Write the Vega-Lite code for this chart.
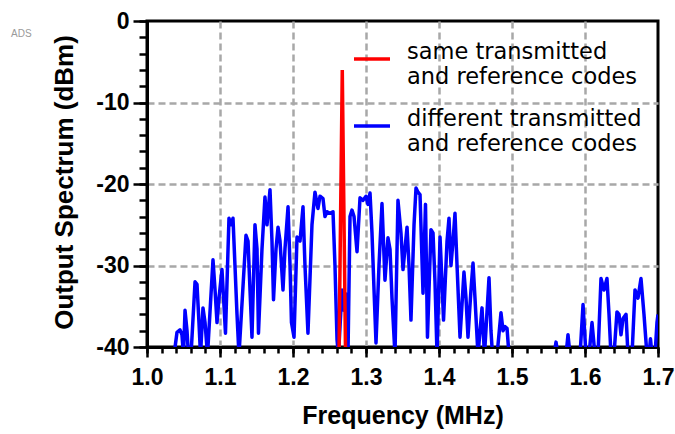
{
  "$schema": "https://vega.github.io/schema/vega-lite/v6.json",
  "width": 511,
  "height": 326,
  "autosize": "none",
  "padding": {"left": 147, "top": 21, "right": 17, "bottom": 87},
  "background": "white",
  "config": {
    "view": {"stroke": "black", "strokeWidth": 3},
    "font": "Liberation Sans"
  },
  "title": {
    "text": "ADS",
    "anchor": "start",
    "frame": "group",
    "fontSize": 10,
    "fontWeight": "normal",
    "color": "#9a9a9a",
    "baseline": "alphabetic",
    "offset": 0,
    "dx": -136,
    "dy": 37
  },
  "datasets": {
    "different": [
      {"f": 1.0288, "dbm": -41, "series": "different transmitted and reference codes"},
      {"f": 1.0370, "dbm": -41, "series": "different transmitted and reference codes"},
      {"f": 1.0411, "dbm": -38.2, "series": "different transmitted and reference codes"},
      {"f": 1.0452, "dbm": -37.9, "series": "different transmitted and reference codes"},
      {"f": 1.0479, "dbm": -38.5, "series": "different transmitted and reference codes"},
      {"f": 1.0500, "dbm": -41, "series": "different transmitted and reference codes"},
      {"f": 1.0521, "dbm": -35.5, "series": "different transmitted and reference codes"},
      {"f": 1.0548, "dbm": -38, "series": "different transmitted and reference codes"},
      {"f": 1.0568, "dbm": -41, "series": "different transmitted and reference codes"},
      {"f": 1.0603, "dbm": -41, "series": "different transmitted and reference codes"},
      {"f": 1.0658, "dbm": -32, "series": "different transmitted and reference codes"},
      {"f": 1.0685, "dbm": -32.3, "series": "different transmitted and reference codes"},
      {"f": 1.0712, "dbm": -37, "series": "different transmitted and reference codes"},
      {"f": 1.0733, "dbm": -41, "series": "different transmitted and reference codes"},
      {"f": 1.0767, "dbm": -35.2, "series": "different transmitted and reference codes"},
      {"f": 1.0795, "dbm": -37, "series": "different transmitted and reference codes"},
      {"f": 1.0829, "dbm": -41, "series": "different transmitted and reference codes"},
      {"f": 1.0904, "dbm": -29.3, "series": "different transmitted and reference codes"},
      {"f": 1.0932, "dbm": -33, "series": "different transmitted and reference codes"},
      {"f": 1.0959, "dbm": -37, "series": "different transmitted and reference codes"},
      {"f": 1.0986, "dbm": -34, "series": "different transmitted and reference codes"},
      {"f": 1.1027, "dbm": -30.5, "series": "different transmitted and reference codes"},
      {"f": 1.1055, "dbm": -35, "series": "different transmitted and reference codes"},
      {"f": 1.1075, "dbm": -38.3, "series": "different transmitted and reference codes"},
      {"f": 1.1123, "dbm": -24.2, "series": "different transmitted and reference codes"},
      {"f": 1.1151, "dbm": -25, "series": "different transmitted and reference codes"},
      {"f": 1.1178, "dbm": -24.2, "series": "different transmitted and reference codes"},
      {"f": 1.1205, "dbm": -30, "series": "different transmitted and reference codes"},
      {"f": 1.1233, "dbm": -36, "series": "different transmitted and reference codes"},
      {"f": 1.1260, "dbm": -41, "series": "different transmitted and reference codes"},
      {"f": 1.1356, "dbm": -26.3, "series": "different transmitted and reference codes"},
      {"f": 1.1384, "dbm": -27, "series": "different transmitted and reference codes"},
      {"f": 1.1411, "dbm": -33, "series": "different transmitted and reference codes"},
      {"f": 1.1438, "dbm": -38.8, "series": "different transmitted and reference codes"},
      {"f": 1.1479, "dbm": -25, "series": "different transmitted and reference codes"},
      {"f": 1.1507, "dbm": -28, "series": "different transmitted and reference codes"},
      {"f": 1.1527, "dbm": -38.3, "series": "different transmitted and reference codes"},
      {"f": 1.1575, "dbm": -28, "series": "different transmitted and reference codes"},
      {"f": 1.1616, "dbm": -21.6, "series": "different transmitted and reference codes"},
      {"f": 1.1644, "dbm": -25, "series": "different transmitted and reference codes"},
      {"f": 1.1685, "dbm": -20.7, "series": "different transmitted and reference codes"},
      {"f": 1.1712, "dbm": -27, "series": "different transmitted and reference codes"},
      {"f": 1.1733, "dbm": -34.2, "series": "different transmitted and reference codes"},
      {"f": 1.1767, "dbm": -28, "series": "different transmitted and reference codes"},
      {"f": 1.1795, "dbm": -25.3, "series": "different transmitted and reference codes"},
      {"f": 1.1822, "dbm": -27, "series": "different transmitted and reference codes"},
      {"f": 1.1863, "dbm": -33, "series": "different transmitted and reference codes"},
      {"f": 1.1890, "dbm": -28, "series": "different transmitted and reference codes"},
      {"f": 1.1932, "dbm": -22.8, "series": "different transmitted and reference codes"},
      {"f": 1.1959, "dbm": -30, "series": "different transmitted and reference codes"},
      {"f": 1.1979, "dbm": -37, "series": "different transmitted and reference codes"},
      {"f": 1.2014, "dbm": -38.8, "series": "different transmitted and reference codes"},
      {"f": 1.2055, "dbm": -26.5, "series": "different transmitted and reference codes"},
      {"f": 1.2096, "dbm": -27, "series": "different transmitted and reference codes"},
      {"f": 1.2137, "dbm": -22.8, "series": "different transmitted and reference codes"},
      {"f": 1.2164, "dbm": -30, "series": "different transmitted and reference codes"},
      {"f": 1.2205, "dbm": -38.3, "series": "different transmitted and reference codes"},
      {"f": 1.2260, "dbm": -25, "series": "different transmitted and reference codes"},
      {"f": 1.2301, "dbm": -21, "series": "different transmitted and reference codes"},
      {"f": 1.2342, "dbm": -23, "series": "different transmitted and reference codes"},
      {"f": 1.2370, "dbm": -21.5, "series": "different transmitted and reference codes"},
      {"f": 1.2411, "dbm": -21.8, "series": "different transmitted and reference codes"},
      {"f": 1.2438, "dbm": -24, "series": "different transmitted and reference codes"},
      {"f": 1.2466, "dbm": -23.4, "series": "different transmitted and reference codes"},
      {"f": 1.2507, "dbm": -23.6, "series": "different transmitted and reference codes"},
      {"f": 1.2548, "dbm": -23.4, "series": "different transmitted and reference codes"},
      {"f": 1.2575, "dbm": -30, "series": "different transmitted and reference codes"},
      {"f": 1.2603, "dbm": -39.1, "series": "different transmitted and reference codes"},
      {"f": 1.2623, "dbm": -41, "series": "different transmitted and reference codes"},
      {"f": 1.2671, "dbm": -33, "series": "different transmitted and reference codes"},
      {"f": 1.2699, "dbm": -35.5, "series": "different transmitted and reference codes"},
      {"f": 1.2726, "dbm": -33.5, "series": "different transmitted and reference codes"},
      {"f": 1.2753, "dbm": -41, "series": "different transmitted and reference codes"},
      {"f": 1.2781, "dbm": -24, "series": "different transmitted and reference codes"},
      {"f": 1.2808, "dbm": -23.2, "series": "different transmitted and reference codes"},
      {"f": 1.2836, "dbm": -24, "series": "different transmitted and reference codes"},
      {"f": 1.2877, "dbm": -28.3, "series": "different transmitted and reference codes"},
      {"f": 1.2918, "dbm": -21.7, "series": "different transmitted and reference codes"},
      {"f": 1.2959, "dbm": -22, "series": "different transmitted and reference codes"},
      {"f": 1.3000, "dbm": -21.5, "series": "different transmitted and reference codes"},
      {"f": 1.3027, "dbm": -22.5, "series": "different transmitted and reference codes"},
      {"f": 1.3055, "dbm": -21.1, "series": "different transmitted and reference codes"},
      {"f": 1.3082, "dbm": -26, "series": "different transmitted and reference codes"},
      {"f": 1.3110, "dbm": -33, "series": "different transmitted and reference codes"},
      {"f": 1.3137, "dbm": -39.5, "series": "different transmitted and reference codes"},
      {"f": 1.3178, "dbm": -30, "series": "different transmitted and reference codes"},
      {"f": 1.3219, "dbm": -22.4, "series": "different transmitted and reference codes"},
      {"f": 1.3260, "dbm": -31.8, "series": "different transmitted and reference codes"},
      {"f": 1.3301, "dbm": -26.6, "series": "different transmitted and reference codes"},
      {"f": 1.3329, "dbm": -28, "series": "different transmitted and reference codes"},
      {"f": 1.3356, "dbm": -34, "series": "different transmitted and reference codes"},
      {"f": 1.3397, "dbm": -41, "series": "different transmitted and reference codes"},
      {"f": 1.3438, "dbm": -22, "series": "different transmitted and reference codes"},
      {"f": 1.3479, "dbm": -26, "series": "different transmitted and reference codes"},
      {"f": 1.3507, "dbm": -30.5, "series": "different transmitted and reference codes"},
      {"f": 1.3562, "dbm": -25.3, "series": "different transmitted and reference codes"},
      {"f": 1.3589, "dbm": -30, "series": "different transmitted and reference codes"},
      {"f": 1.3616, "dbm": -36.7, "series": "different transmitted and reference codes"},
      {"f": 1.3658, "dbm": -25, "series": "different transmitted and reference codes"},
      {"f": 1.3685, "dbm": -20.5, "series": "different transmitted and reference codes"},
      {"f": 1.3712, "dbm": -21, "series": "different transmitted and reference codes"},
      {"f": 1.3740, "dbm": -21.3, "series": "different transmitted and reference codes"},
      {"f": 1.3781, "dbm": -33.4, "series": "different transmitted and reference codes"},
      {"f": 1.3815, "dbm": -22.5, "series": "different transmitted and reference codes"},
      {"f": 1.3842, "dbm": -38.8, "series": "different transmitted and reference codes"},
      {"f": 1.3890, "dbm": -25.6, "series": "different transmitted and reference codes"},
      {"f": 1.3918, "dbm": -26, "series": "different transmitted and reference codes"},
      {"f": 1.3945, "dbm": -32, "series": "different transmitted and reference codes"},
      {"f": 1.3973, "dbm": -41, "series": "different transmitted and reference codes"},
      {"f": 1.4014, "dbm": -26.5, "series": "different transmitted and reference codes"},
      {"f": 1.4041, "dbm": -32, "series": "different transmitted and reference codes"},
      {"f": 1.4062, "dbm": -36.7, "series": "different transmitted and reference codes"},
      {"f": 1.4110, "dbm": -27, "series": "different transmitted and reference codes"},
      {"f": 1.4137, "dbm": -24.2, "series": "different transmitted and reference codes"},
      {"f": 1.4164, "dbm": -30, "series": "different transmitted and reference codes"},
      {"f": 1.4192, "dbm": -27, "series": "different transmitted and reference codes"},
      {"f": 1.4219, "dbm": -23.6, "series": "different transmitted and reference codes"},
      {"f": 1.4247, "dbm": -30, "series": "different transmitted and reference codes"},
      {"f": 1.4288, "dbm": -38.8, "series": "different transmitted and reference codes"},
      {"f": 1.4342, "dbm": -30.8, "series": "different transmitted and reference codes"},
      {"f": 1.4370, "dbm": -34, "series": "different transmitted and reference codes"},
      {"f": 1.4397, "dbm": -38.8, "series": "different transmitted and reference codes"},
      {"f": 1.4438, "dbm": -33, "series": "different transmitted and reference codes"},
      {"f": 1.4466, "dbm": -29.7, "series": "different transmitted and reference codes"},
      {"f": 1.4493, "dbm": -34, "series": "different transmitted and reference codes"},
      {"f": 1.4534, "dbm": -41, "series": "different transmitted and reference codes"},
      {"f": 1.4589, "dbm": -35.2, "series": "different transmitted and reference codes"},
      {"f": 1.4623, "dbm": -41, "series": "different transmitted and reference codes"},
      {"f": 1.4685, "dbm": -31.5, "series": "different transmitted and reference codes"},
      {"f": 1.4712, "dbm": -38, "series": "different transmitted and reference codes"},
      {"f": 1.4733, "dbm": -41, "series": "different transmitted and reference codes"},
      {"f": 1.4795, "dbm": -41, "series": "different transmitted and reference codes"},
      {"f": 1.4849, "dbm": -35.8, "series": "different transmitted and reference codes"},
      {"f": 1.4877, "dbm": -38, "series": "different transmitted and reference codes"},
      {"f": 1.4904, "dbm": -37.5, "series": "different transmitted and reference codes"},
      {"f": 1.4932, "dbm": -37.7, "series": "different transmitted and reference codes"},
      {"f": 1.4959, "dbm": -41, "series": "different transmitted and reference codes"},
      {"f": 1.5575, "dbm": -41, "series": "different transmitted and reference codes"},
      {"f": 1.5603, "dbm": -39.4, "series": "different transmitted and reference codes"},
      {"f": 1.5630, "dbm": -41, "series": "different transmitted and reference codes"},
      {"f": 1.5740, "dbm": -41, "series": "different transmitted and reference codes"},
      {"f": 1.5767, "dbm": -38.5, "series": "different transmitted and reference codes"},
      {"f": 1.5795, "dbm": -41, "series": "different transmitted and reference codes"},
      {"f": 1.5932, "dbm": -41, "series": "different transmitted and reference codes"},
      {"f": 1.5973, "dbm": -34.8, "series": "different transmitted and reference codes"},
      {"f": 1.6014, "dbm": -41, "series": "different transmitted and reference codes"},
      {"f": 1.6055, "dbm": -41, "series": "different transmitted and reference codes"},
      {"f": 1.6096, "dbm": -37, "series": "different transmitted and reference codes"},
      {"f": 1.6137, "dbm": -41, "series": "different transmitted and reference codes"},
      {"f": 1.6178, "dbm": -41, "series": "different transmitted and reference codes"},
      {"f": 1.6219, "dbm": -31.6, "series": "different transmitted and reference codes"},
      {"f": 1.6260, "dbm": -33, "series": "different transmitted and reference codes"},
      {"f": 1.6301, "dbm": -31.6, "series": "different transmitted and reference codes"},
      {"f": 1.6329, "dbm": -36, "series": "different transmitted and reference codes"},
      {"f": 1.6356, "dbm": -41, "series": "different transmitted and reference codes"},
      {"f": 1.6397, "dbm": -41, "series": "different transmitted and reference codes"},
      {"f": 1.6438, "dbm": -35.7, "series": "different transmitted and reference codes"},
      {"f": 1.6466, "dbm": -36, "series": "different transmitted and reference codes"},
      {"f": 1.6493, "dbm": -38.5, "series": "different transmitted and reference codes"},
      {"f": 1.6521, "dbm": -36.5, "series": "different transmitted and reference codes"},
      {"f": 1.6562, "dbm": -36, "series": "different transmitted and reference codes"},
      {"f": 1.6589, "dbm": -41, "series": "different transmitted and reference codes"},
      {"f": 1.6644, "dbm": -41, "series": "different transmitted and reference codes"},
      {"f": 1.6685, "dbm": -33, "series": "different transmitted and reference codes"},
      {"f": 1.6726, "dbm": -34, "series": "different transmitted and reference codes"},
      {"f": 1.6767, "dbm": -31.6, "series": "different transmitted and reference codes"},
      {"f": 1.6808, "dbm": -36, "series": "different transmitted and reference codes"},
      {"f": 1.6849, "dbm": -41, "series": "different transmitted and reference codes"},
      {"f": 1.6877, "dbm": -41, "series": "different transmitted and reference codes"},
      {"f": 1.6897, "dbm": -39, "series": "different transmitted and reference codes"},
      {"f": 1.6918, "dbm": -41, "series": "different transmitted and reference codes"},
      {"f": 1.6959, "dbm": -41, "series": "different transmitted and reference codes"},
      {"f": 1.6986, "dbm": -37, "series": "different transmitted and reference codes"},
      {"f": 1.7000, "dbm": -36, "series": "different transmitted and reference codes"}
    ],
    "same": [
      {"f": 1.2630, "dbm": -41, "series": "same transmitted and reference codes"},
      {"f": 1.2675, "dbm": -6, "series": "same transmitted and reference codes"},
      {"f": 1.2720, "dbm": -41, "series": "same transmitted and reference codes"}
    ]
  },
  "layer": [
    {
      "data": {"name": "different"},
      "mark": {"type": "line", "strokeWidth": 3.5, "clip": true, "strokeJoin": "round"},
      "encoding": {
        "x": {
          "field": "f",
          "type": "quantitative",
          "scale": {"domain": [1.0, 1.7], "nice": false, "zero": false},
          "axis": {
            "orient": "bottom",
            "values": [1.0, 1.1, 1.2, 1.3, 1.4, 1.5, 1.6, 1.7],
            "format": ".1f",
            "title": "Frequency (MHz)",
            "titleFontSize": 25,
            "titleFontWeight": "bold",
            "titleColor": "black",
            "titleX": 255.5,
            "titleY": 76,
            "titleAlign": "center",
            "titleBaseline": "alphabetic",
            "labelFontSize": 23,
            "labelFontWeight": "bold",
            "labelColor": "black",
            "labelPadding": 9,
            "labelFlush": false,
            "labelOverlap": false,
            "tickSize": 10,
            "tickWidth": 2.5,
            "tickColor": "black",
            "domainColor": "black",
            "domainWidth": 3,
            "grid": true,
            "gridColor": "#a8a8a8",
            "gridWidth": 2.5,
            "gridDash": [7, 4],
            "gridOpacity": {"condition": {"test": "datum.value < 1.001 || datum.value > 1.699", "value": 0}, "value": 1}
          }
        },
        "y": {
          "field": "dbm",
          "type": "quantitative",
          "scale": {"domain": [-40, 0], "nice": false, "zero": false},
          "axis": {
            "orient": "left",
            "values": [-40, -30, -20, -10, 0],
            "labelExpr": "'' + datum.value",
            "title": "Output Spectrum (dBm)",
            "titleFontSize": 26,
            "titleFontWeight": "bold",
            "titleColor": "black",
            "titleAngle": -90,
            "titleX": -70,
            "titleY": 161,
            "titleAlign": "center",
            "titleBaseline": "bottom",
            "labelFontSize": 23,
            "labelFontWeight": "bold",
            "labelColor": "black",
            "labelPadding": 4,
            "labelFlush": false,
            "labelOverlap": false,
            "tickSize": 14,
            "tickWidth": 2.5,
            "tickColor": "black",
            "domainColor": "black",
            "domainWidth": 3,
            "grid": true,
            "gridColor": "#a8a8a8",
            "gridWidth": 2.5,
            "gridDash": [7, 4],
            "gridOpacity": {"condition": {"test": "datum.value < -39.9 || datum.value > -0.1", "value": 0}, "value": 1}
          }
        },
        "color": {
          "field": "series",
          "type": "nominal",
          "scale": {
            "domain": ["same transmitted and reference codes", "different transmitted and reference codes"],
            "range": ["#ff0000", "#0000ff"]
          },
          "legend": {
            "orient": "none",
            "legendX": 205,
            "legendY": 18,
            "title": null,
            "padding": 0,
            "symbolType": "stroke",
            "symbolSize": 1296,
            "symbolStrokeWidth": 3.5,
            "labelOffset": 15,
            "labelFontSize": 22.5,
            "labelFont": "DejaVu Sans",
            "labelColor": "black",
            "labelBaseline": "alphabetic",
            "labelLimit": 400,
            "rowPadding": 18,
            "labelExpr": "[slice(datum.label, 0, indexof(datum.label, ' and ')), slice(datum.label, indexof(datum.label, ' and ') + 1)]"
          }
        }
      }
    },
    {
      "data": {"name": "same"},
      "mark": {"type": "line", "strokeWidth": 3.5, "clip": true},
      "encoding": {
        "x": {
          "field": "f",
          "type": "quantitative",
          "axis": {
            "orient": "bottom",
            "values": [1.0, 1.02, 1.04, 1.06, 1.08, 1.1, 1.12, 1.14, 1.16, 1.18, 1.2, 1.22, 1.24, 1.26, 1.28, 1.3, 1.32, 1.34, 1.36, 1.38, 1.4, 1.42, 1.44, 1.46, 1.48, 1.5, 1.52, 1.54, 1.56, 1.58, 1.6, 1.62, 1.64, 1.66, 1.68, 1.7],
            "labels": false,
            "domain": false,
            "grid": false,
            "title": null,
            "tickSize": 6,
            "tickWidth": 2.5,
            "tickColor": "black"
          }
        },
        "y": {
          "field": "dbm",
          "type": "quantitative",
          "axis": {
            "orient": "left",
            "values": [-40, -38, -36, -34, -32, -30, -28, -26, -24, -22, -20, -18, -16, -14, -12, -10, -8, -6, -4, -2, 0],
            "labels": false,
            "domain": false,
            "grid": false,
            "title": null,
            "tickSize": 8,
            "tickWidth": 2.5,
            "tickColor": "black"
          }
        },
        "color": {"field": "series", "type": "nominal"}
      }
    }
  ],
  "resolve": {"axis": {"x": "independent", "y": "independent"}}
}
